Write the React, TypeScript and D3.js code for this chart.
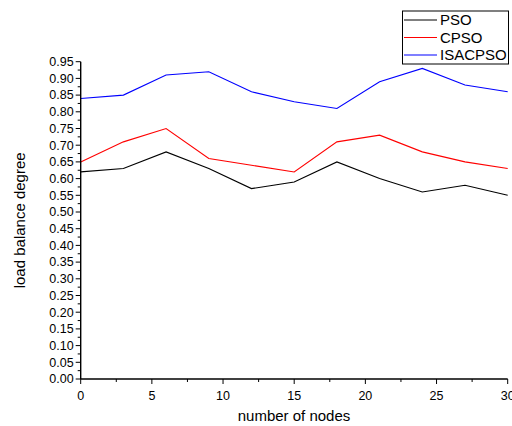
import React from "react";
import * as d3 from "d3";

const xValues = [0, 3, 6, 9, 12, 15, 18, 21, 24, 27, 30];
const psoValues = [0.62, 0.63, 0.68, 0.63, 0.57, 0.59, 0.65, 0.6, 0.56, 0.58, 0.55];
const cpsoValues = [0.65, 0.71, 0.75, 0.66, 0.64, 0.62, 0.71, 0.73, 0.68, 0.65, 0.63];
const isacpsoValues = [0.84, 0.85, 0.91, 0.92, 0.86, 0.83, 0.81, 0.89, 0.93, 0.88, 0.86];
const seriesNames = ["PSO", "CPSO", "ISACPSO"];
const seriesColors = ["#000000", "#ff0000", "#0000ff"];
const xTicks = [0, 5, 10, 15, 20, 25, 30];
const yTicks = d3.range(0, 20).map((i) => +(i * 0.05).toFixed(2));

export default function App() {
  const W = 512, H = 426;
  const x = d3.scaleLinear().domain([0, 30]).range([80.7, 507.7]);
  const y = d3.scaleLinear().domain([0, 0.95]).range([379, 61.7]);
  const line = d3.line<number>().x((_, i) => x(xValues[i])).y((d) => y(d));
  const series = [psoValues, cpsoValues, isacpsoValues];
  const font = "Liberation Sans, Arial, sans-serif";
  const xMinor = d3.range(2.5, 30, 5);
  const yMinor = d3.range(0, 19).map((i) => i * 0.05 + 0.025);

  return (
    <svg width={W} height={H} style={{ position: "absolute", left: 0, top: 0 }} fontFamily={font}>
      <rect width={W} height={H} fill="#fff" />
      {series.map((s, i) => (
        <path key={i} d={line(s) || ""} fill="none" stroke={seriesColors[i]} strokeWidth={1.1} />
      ))}
      {/* axes */}
      <line x1={x(0)} x2={x(0)} y1={y(0.95)} y2={y(0)} stroke="#000" strokeWidth={1.4} />
      <line x1={x(0)} x2={x(30)} y1={y(0)} y2={y(0)} stroke="#000" strokeWidth={1.4} />
      {yTicks.map((t) => (
        <g key={t}>
          <line x1={x(0) - 5} x2={x(0)} y1={y(t)} y2={y(t)} stroke="#000" strokeWidth={1} />
          <text x={x(0) - 7} y={y(t)} dy="0.35em" textAnchor="end" fontSize={12.5}>
            {t.toFixed(2)}
          </text>
        </g>
      ))}
      {yMinor.map((t, i) => (
        <line key={i} x1={x(0) - 3} x2={x(0)} y1={y(t)} y2={y(t)} stroke="#000" strokeWidth={1} />
      ))}
      {xTicks.map((t) => (
        <g key={t}>
          <line x1={x(t)} x2={x(t)} y1={y(0)} y2={y(0) + 5} stroke="#000" strokeWidth={1} />
          <text x={x(t)} y={y(0) + 21} textAnchor="middle" fontSize={12.5}>
            {t}
          </text>
        </g>
      ))}
      {xMinor.map((t, i) => (
        <line key={i} x1={x(t)} x2={x(t)} y1={y(0)} y2={y(0) + 3} stroke="#000" strokeWidth={1} />
      ))}
      <text x={294} y={421} textAnchor="middle" fontSize={15}>
        number of nodes
      </text>
      <text transform={`translate(25,${y(0.475)}) rotate(-90)`} textAnchor="middle" fontSize={15}>
        load balance degree
      </text>
      {/* legend */}
      <rect x={402.5} y={11} width={106} height={53} fill="#fff" stroke="#000" strokeWidth={1} />
      {seriesNames.map((n, i) => (
        <g key={n}>
          <line x1={404} x2={437} y1={20 + i * 17.5} y2={20 + i * 17.5} stroke={seriesColors[i]} strokeWidth={1.1} />
          <text x={440} y={20 + i * 17.5} dy="0.35em" fontSize={15}>
            {n}
          </text>
        </g>
      ))}
    </svg>
  );
}
